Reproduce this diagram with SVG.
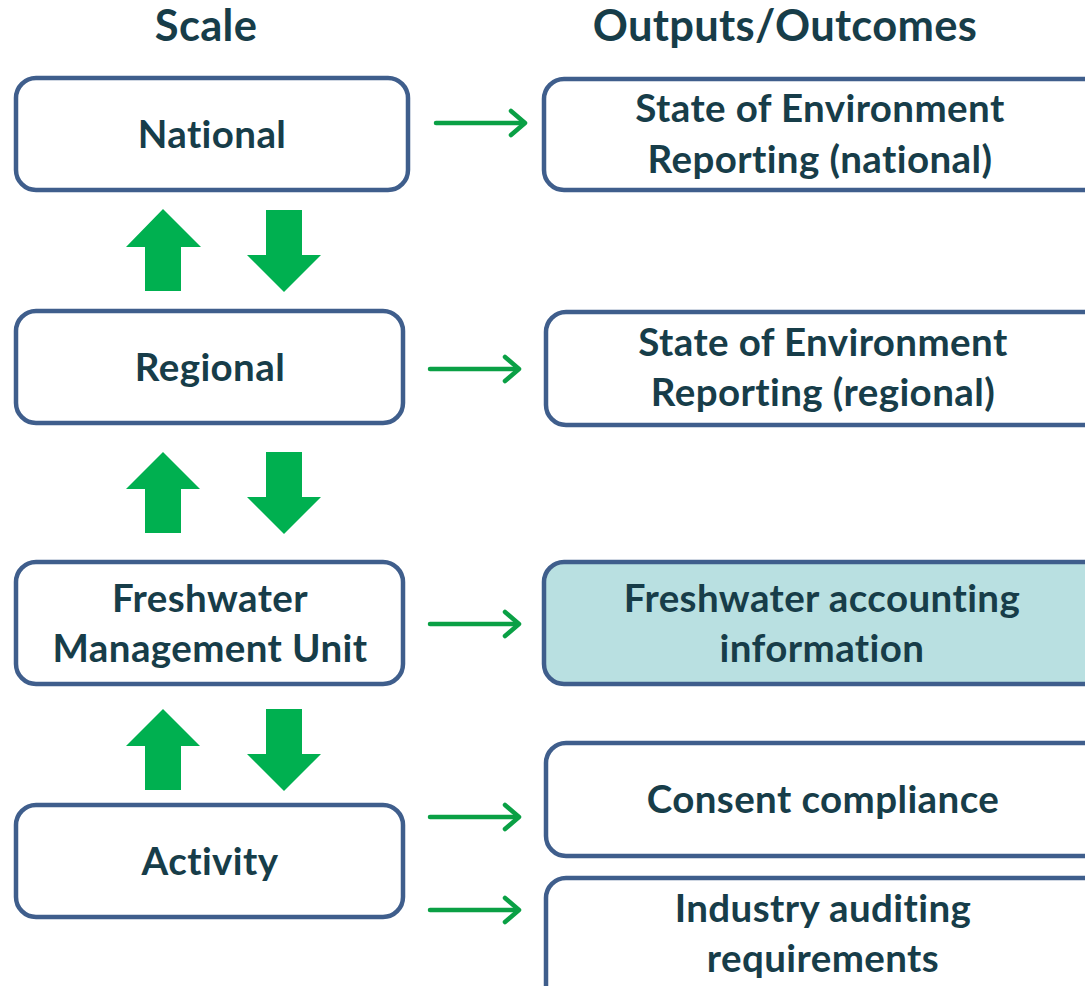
<svg xmlns="http://www.w3.org/2000/svg" width="1085" height="986" viewBox="0 0 1085 986">
<style>
.box{fill:#FFFFFF;stroke:#3F5E8C;stroke-width:4.5}
.hl{fill:#B9E0E1}
.t{font-family:Lato,"Open Sans","Liberation Sans",sans-serif;font-weight:bold;fill:#173D49;text-anchor:middle;font-size:38.5px;letter-spacing:0.4px}
.title{font-size:43.5px;letter-spacing:0.3px}
.con line,.con polyline{stroke:#0AA045;stroke-width:4.5;fill:none;stroke-linecap:round;stroke-linejoin:round}
.blk{fill:#00B050}
</style>
<rect width="1085" height="986" fill="#FFFFFF"/>
<g id="titles">
<text class="t title" x="206" y="41">Scale</text>
<text class="t title" x="785" y="41">Outputs/Outcomes</text>
</g>
<g id="national"><rect class="box" x="16" y="78" width="392" height="112" rx="20"/><text class="t" x="212" y="148">National</text></g>
<g id="regional"><rect class="box" x="16" y="311" width="387" height="112" rx="20"/><text class="t" x="210" y="381">Regional</text></g>
<g id="fmu"><rect class="box" x="16" y="562" width="387" height="122" rx="20"/><text class="t" x="210" y="612">Freshwater</text><text class="t" x="210" y="662">Management Unit</text></g>
<g id="activity"><rect class="box" x="16" y="805" width="387" height="112" rx="20"/><text class="t" x="210" y="875">Activity</text></g>
<g id="soe-national"><rect class="box" x="544" y="79" width="570" height="111" rx="20"/><text class="t" x="820" y="122">State of Environment</text><text class="t" x="820" y="173">Reporting (national)</text></g>
<g id="soe-regional"><rect class="box" x="546" y="312" width="570" height="113" rx="20"/><text class="t" x="823" y="356">State of Environment</text><text class="t" x="823" y="406">Reporting (regional)</text></g>
<g id="accounting"><rect class="box hl" x="544" y="562" width="570" height="122" rx="20"/><text class="t" x="822" y="612">Freshwater accounting</text><text class="t" x="822" y="662">information</text></g>
<g id="consent"><rect class="box" x="546" y="743" width="570" height="113" rx="20"/><text class="t" x="823" y="813">Consent compliance</text></g>
<g id="industry"><rect class="box" x="546" y="878" width="570" height="130" rx="20"/><text class="t" x="823" y="922">Industry auditing</text><text class="t" x="823" y="972">requirements</text></g>
<g id="connectors" class="con">
<line x1="436" y1="123" x2="524" y2="123"/><polyline points="511,111 525,123 511,135"/>
<line x1="430" y1="369" x2="518" y2="369"/><polyline points="505,357 519,369 505,381"/>
<line x1="430" y1="624" x2="518" y2="624"/><polyline points="505,612 519,624 505,636"/>
<line x1="430" y1="817" x2="518" y2="817"/><polyline points="505,805 519,817 505,829"/>
<line x1="430" y1="910" x2="518" y2="910"/><polyline points="505,898 519,910 505,922"/>
<polygon class="blk" points="163,209 201,247 181,247 181,291 145,291 145,247 126,247"/>
<polygon class="blk" points="266,210 302,210 302,255 321,255 284,292 247,255 266,255"/>
<polygon class="blk" points="163,452 200,489 181,489 181,533 145,533 145,489 126,489"/>
<polygon class="blk" points="266,452 302,452 302,497 321,497 284,534 247,497 266,497"/>
<polygon class="blk" points="163,709 200,746 181,746 181,790 145,790 145,746 126,746"/>
<polygon class="blk" points="266,709 302,709 302,754 321,754 284,791 247,754 266,754"/>
</g>
</svg>
